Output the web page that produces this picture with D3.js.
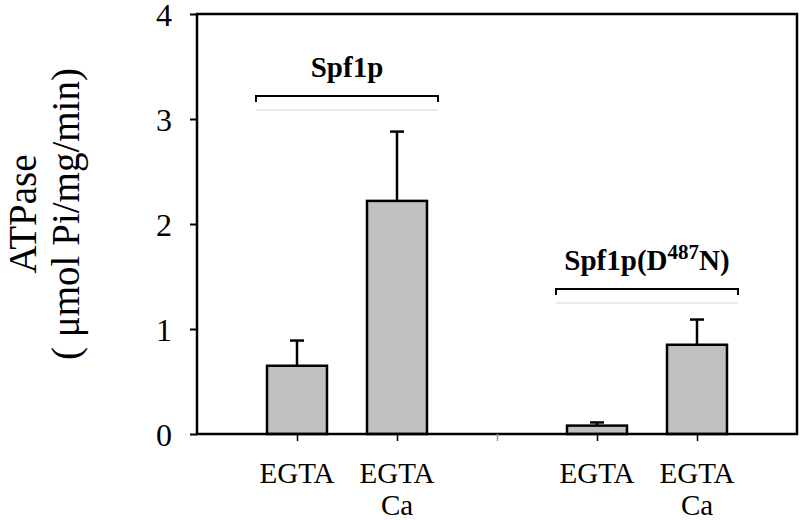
<!DOCTYPE html>
<html>
<head>
<meta charset="utf-8">
<script src="https://cdn.jsdelivr.net/npm/d3@7"></script>
<style>
  body { margin: 0; background: #fff; }
  svg text { font-family: "Liberation Serif", "Times New Roman", serif !important; fill: #000; }
</style>
</head>
<body>
<div id="chart"></div>
<script>
// ATPase activity, Spf1p vs Spf1p(D487N)
var serif = "'Liberation Serif', 'Times New Roman', serif";
var slotKeys   = ["wtEgta", "wtCa", "gap", "mutEgta", "mutCa"];
var slotLabels = [["EGTA"], ["EGTA", "Ca"], [], ["EGTA"], ["EGTA", "Ca"]];
var barKeys    = ["wtEgta", "wtCa", "mutEgta", "mutCa"];
var barValues  = [0.65, 2.22, 0.08, 0.85];
var barErrors  = [0.24, 0.66, 0.03, 0.24];   // upper error only
var yTicks     = [0, 1, 2, 3, 4];
var groups = [
  {name: "Spf1p", sup: null, tail: null, from: "wtEgta", to: "wtCa", level: 3.22},
  {name: "Spf1p(D", sup: "487", tail: "N)", from: "mutEgta", to: "mutCa", level: 1.38}
];

var W = 800, H = 520;
var margin = {top: 14, right: 3, bottom: 86, left: 197};
var w = W - margin.left - margin.right,
    h = H - margin.top - margin.bottom;

var svg = d3.select("#chart").append("svg")
    .attr("width", W)
    .attr("height", H)
  .append("g")
    .attr("transform", "translate(" + margin.left + "," + margin.top + ")");

var x = d3.scalePoint()
    .domain(slotKeys)
    .range([0, w])
    .padding(1);   // one step of blank space at each end

var y = d3.scaleLinear()
    .domain([0, 4])
    .range([h, 0]);

var step = x.step();
var barW = step * 0.6;

// bars
svg.selectAll("rect.bar")
  .data(barKeys)
  .enter().append("rect")
    .attr("class", "bar")
    .attr("x", function(d) { return x(d) - barW / 2; })
    .attr("y", function(d, i) { return y(barValues[i]); })
    .attr("width", barW)
    .attr("height", function(d, i) { return h - y(barValues[i]); })
    .style("fill", "#c0c0c0")
    .style("stroke", "#000")
    .style("stroke-width", 2.5);

// error bars (upper only)
var err = svg.selectAll("g.err")
  .data(barKeys)
  .enter().append("g")
    .attr("class", "err")
    .style("stroke", "#000")
    .style("stroke-width", 2.5);
err.append("line")
    .attr("x1", function(d) { return x(d); })
    .attr("x2", function(d) { return x(d); })
    .attr("y1", function(d, i) { return y(barValues[i]); })
    .attr("y2", function(d, i) { return y(barValues[i] + barErrors[i]); });
err.append("line")
    .attr("x1", function(d) { return x(d) - 7; })
    .attr("x2", function(d) { return x(d) + 7; })
    .attr("y1", function(d, i) { return y(barValues[i] + barErrors[i]); })
    .attr("y2", function(d, i) { return y(barValues[i] + barErrors[i]); });

// frame
svg.append("rect")
    .attr("x", 0).attr("y", 0)
    .attr("width", w).attr("height", h)
    .style("fill", "none")
    .style("stroke", "#000")
    .style("stroke-width", 2.5);

// y axis
var yAxis = svg.append("g")
    .call(d3.axisLeft(y).tickValues(yTicks).tickSize(7).tickPadding(18).tickFormat(d3.format("d")));
yAxis.attr("font-family", serif);
yAxis.select(".domain").remove();
yAxis.selectAll(".tick line").style("stroke-width", 2);
yAxis.selectAll("text")
    .style("font-family", serif)
    .style("font-size", "32px")
    .attr("dy", "0.36em");

// x axis ticks
var xAxis = svg.append("g")
    .attr("transform", "translate(0," + h + ")")
    .call(d3.axisBottom(x).tickSize(7).tickFormat(""));
xAxis.select(".domain").remove();
xAxis.selectAll(".tick line")
    .style("stroke-width", 1.5)
    .style("stroke", function(d) { return d === "gap" ? "#999" : "#000"; });

// x labels (multi-line)
svg.selectAll("text.xlab")
  .data(slotKeys)
  .enter().append("text")
    .attr("class", "xlab")
    .attr("text-anchor", "middle")
    .style("font-family", serif)
    .style("font-size", "29px")
    .attr("transform", function(d) { return "translate(" + x(d) + "," + (h + 49) + ")"; })
    .selectAll("tspan")
    .data(function(d, i) { return slotLabels[i]; })
    .enter().append("tspan")
      .attr("x", 0)
      .attr("dy", function(d, i) { return i === 0 ? 0 : 32; })
      .text(function(d) { return d; });

// group brackets
var over = step * 0.41;
var br = svg.selectAll("g.bracket")
  .data(groups)
  .enter().append("g")
    .attr("class", "bracket");
br.append("path")
    .attr("d", function(d) {
      var x0 = x(d.from) - over, x1 = x(d.to) + over, yy = y(d.level);
      return "M" + x0 + "," + (yy + 6) + "V" + yy + "H" + x1 + "V" + (yy + 6);
    })
    .style("fill", "none")
    .style("stroke", "#000")
    .style("stroke-width", 2);
br.append("line")
    .attr("x1", function(d) { return x(d.from) - over; })
    .attr("x2", function(d) { return x(d.to) + over; })
    .attr("y1", function(d) { return y(d.level) + 14; })
    .attr("y2", function(d) { return y(d.level) + 14; })
    .style("stroke", "#e4e4e4")
    .style("stroke-width", 1.5);
var lab = br.append("text")
    .attr("text-anchor", "middle")
    .attr("x", function(d) { return (x(d.from) + x(d.to)) / 2; })
    .attr("y", function(d) { return y(d.level) - 19; })
    .style("font-family", serif)
    .style("font-size", "29px")
    .style("font-weight", "bold");
lab.append("tspan").text(function(d) { return d.name; });
lab.filter(function(d) { return d.sup; }).append("tspan")
    .attr("dy", -11)
    .style("font-size", "21px")
    .text(function(d) { return d.sup; });
lab.filter(function(d) { return d.tail; }).append("tspan")
    .attr("dy", 11)
    .text(function(d) { return d.tail; });

// y axis title
var title = svg.append("text")
    .attr("text-anchor", "middle")
    .attr("transform", "translate(" + (-161) + "," + (h / 2 - 10) + ") rotate(-90)")
    .style("font-family", serif)
    .style("font-size", "39px");
title.append("tspan").attr("x", 0).attr("y", 0).text("ATPase");
title.append("tspan").attr("x", 0).attr("y", 43).text("( \u03bcmol Pi/mg/min)");
</script>
</body>
</html>
